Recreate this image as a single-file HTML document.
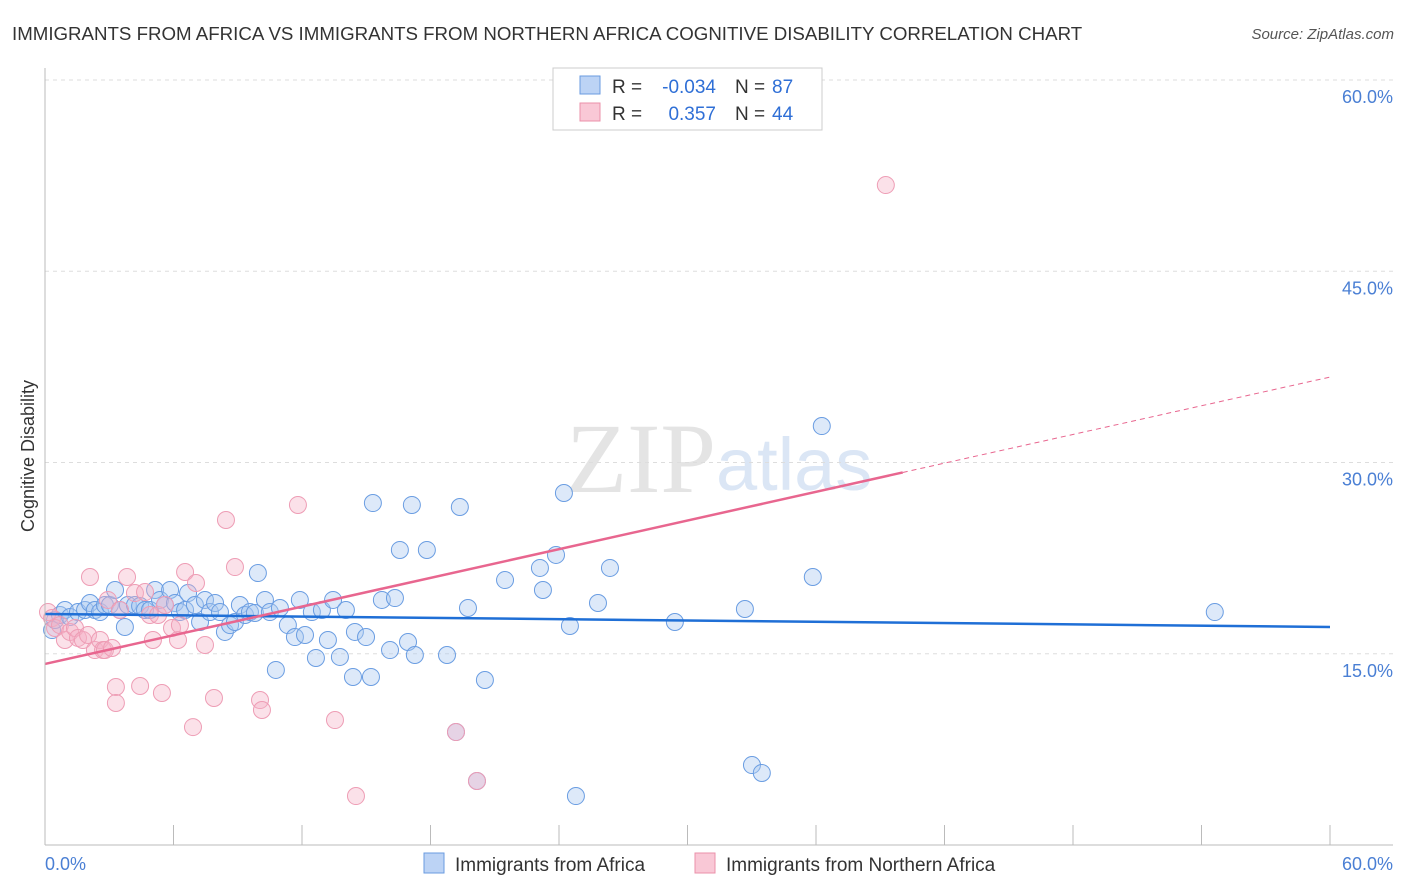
<!DOCTYPE html>
<html><head><meta charset="utf-8"><style>
body{margin:0;background:#fff;font-family:"Liberation Sans",sans-serif;}
#wrap{position:relative;width:1406px;height:892px;overflow:hidden;}
</style></head><body>
<div id="wrap">
<svg id="svg" width="1406" height="892" xmlns="http://www.w3.org/2000/svg">
<text x="12" y="40" font-size="18.7" fill="#333">IMMIGRANTS FROM AFRICA VS IMMIGRANTS FROM NORTHERN AFRICA COGNITIVE DISABILITY CORRELATION CHART</text>
<text x="1394" y="39" font-size="15" fill="#555" font-style="italic" text-anchor="end">Source: ZipAtlas.com</text>
<text x="716" y="492" font-size="100" fill="#e4e4e4" text-anchor="end" font-family="Liberation Serif,serif">ZIP</text>
<text x="716" y="490" font-size="74" fill="#dbe6f5">atlas</text>
<text transform="translate(34,456) rotate(-90)" font-size="18" fill="#333" text-anchor="middle">Cognitive Disability</text>
<g id="grid"></g><g id="pts"></g><g id="lines"></g>
<line x1="45" y1="845" x2="1393" y2="845" stroke="#bbb"/>
<line x1="45" y1="68" x2="45" y2="845" stroke="#bbb"/>
<text x="45" y="870" font-size="18" fill="#4a7fd4">0.0%</text>
<text x="1393" y="870" font-size="18" fill="#4a7fd4" text-anchor="end">60.0%</text>
<g>
<rect x="553" y="68" width="269" height="62" fill="#fff" stroke="#ccc"/>
<rect x="580" y="76" width="20" height="18" fill="#bcd3f5" stroke="#6a9be0"/>
<rect x="580" y="103" width="20" height="18" fill="#f9c8d6" stroke="#eb90aa"/>
<text x="612" y="93" font-size="19" fill="#333">R =</text>
<text x="716" y="93" font-size="19" fill="#2f6fd6" text-anchor="end">-0.034</text>
<text x="735" y="93" font-size="19" fill="#333">N =</text>
<text x="772" y="93" font-size="19" fill="#2f6fd6">87</text>
<text x="612" y="120" font-size="19" fill="#333">R =</text>
<text x="716" y="120" font-size="19" fill="#2f6fd6" text-anchor="end">0.357</text>
<text x="735" y="120" font-size="19" fill="#333">N =</text>
<text x="772" y="120" font-size="19" fill="#2f6fd6">44</text>
</g>
<g>
<rect x="424" y="853" width="20" height="20" fill="#bcd3f5" stroke="#6a9be0"/>
<text x="455" y="871" font-size="19" fill="#333">Immigrants from Africa</text>
<rect x="695" y="853" width="20" height="20" fill="#f9c8d6" stroke="#eb90aa"/>
<text x="726" y="871" font-size="19" fill="#333">Immigrants from Northern Africa</text>
</g>
</svg></div>
<script>
const yTicks=[15,30,45,60];
const yTickLabels=["15.0%","30.0%","45.0%","60.0%"];
const xTicks=[0,6,12,18,24,30,36,42,48,54,60];
const blueX=[0.33,0.47,0.70,0.93,1.17,1.54,1.87,2.10,2.33,2.57,2.80,3.03,3.27,3.50,3.73,3.87,4.20,4.44,4.67,4.90,5.14,5.37,5.60,5.84,6.07,6.30,6.54,6.68,7.00,7.24,7.47,7.70,7.94,8.17,8.40,8.64,8.87,9.10,9.34,9.57,9.80,9.94,10.27,10.50,10.78,10.97,11.34,11.67,11.90,12.14,12.46,12.65,12.93,13.21,13.45,13.77,14.05,14.38,14.47,14.99,15.22,15.31,15.73,16.11,16.34,16.57,16.95,17.13,17.27,17.83,18.77,19.37,19.75,20.54,21.48,23.11,23.25,23.86,24.23,24.51,24.79,25.82,26.38,29.41,32.68,33.01,33.47,35.85,36.27,54.62,19.19,20.17];
const blueY=[16.86,17.65,18.04,18.43,17.88,18.27,18.43,18.98,18.43,18.27,18.82,18.82,20.0,18.43,17.10,18.82,18.82,18.75,18.43,18.43,20.0,19.22,18.82,20.0,18.98,18.27,18.43,19.76,18.82,17.49,19.22,18.27,18.98,18.27,16.71,17.25,17.49,18.82,18.04,18.27,18.20,21.33,19.22,18.27,13.73,18.59,17.25,16.31,19.22,16.47,18.27,14.67,18.43,16.08,19.22,14.75,18.43,13.18,16.71,16.31,13.18,26.82,19.22,15.29,19.37,23.14,15.92,26.67,14.90,23.14,14.90,26.51,18.59,12.94,20.78,21.73,20.0,22.75,27.61,17.18,3.84,18.98,21.73,17.49,18.51,6.27,5.65,21.02,32.86,18.27,8.86,5.02];
const pinkX=[0.14,0.33,0.47,0.70,0.93,1.17,1.40,1.54,1.77,2.01,2.10,2.33,2.57,2.71,2.80,2.94,3.13,3.31,3.31,3.50,3.83,4.20,4.44,4.67,4.90,5.04,5.28,5.46,5.60,5.93,6.21,6.30,6.54,6.91,7.05,7.47,7.89,8.45,8.87,10.04,10.13,11.81,13.54,14.52,39.26,19.19,20.17];
const pinkY=[18.27,17.80,17.02,17.25,16.08,16.71,17.02,16.24,16.08,16.47,21.02,15.29,16.08,15.29,15.29,19.22,15.45,12.39,11.14,18.43,21.02,19.76,12.47,19.84,18.04,16.08,18.04,11.92,18.82,17.02,16.08,17.25,21.41,9.25,20.55,15.69,11.53,25.49,21.80,11.37,10.59,26.67,9.80,3.84,51.76,8.86,5.02];
const blueTrend=[18.12,17.1];
const pinkTrend=[14.2,36.7];
const pinkSolidEnd=40.05;
const NS="http://www.w3.org/2000/svg";
const xs=v=>45+v*(1285/60), ys=v=>845-v*(765/60);
function mk(t,a,p){const e=document.createElementNS(NS,t);for(const k in a)e.setAttribute(k,a[k]);p.appendChild(e);return e;}
const grid=document.getElementById('grid'),pts=document.getElementById('pts'),lines=document.getElementById('lines');
yTicks.forEach((t,i)=>{
 const l=mk('line',{x1:45,x2:1393,y1:ys(t),y2:ys(t),stroke:'#ddd','stroke-dasharray':'4,4'},grid);
 
 
 const tx=mk('text',{x:1393,y:ys(t)+23,'font-size':18,fill:'#4a7fd4','text-anchor':'end'},grid);
 tx.textContent=yTickLabels[i];
 
 
});
xTicks.forEach(t=>{
 const l=mk('line',{x1:xs(t),x2:xs(t),y1:825,y2:845,stroke:'#bbb'},grid);
 
 
});
blueX.forEach((x,i)=>{
 const c=mk('circle',{cx:xs(x),cy:ys(blueY[i]),r:8.5,fill:'rgba(170,200,240,0.4)',stroke:'#6a9de2','stroke-width':1},pts);
 
 
});
pinkX.forEach((x,i)=>{
 const c=mk('circle',{cx:xs(x),cy:ys(pinkY[i]),r:8.5,fill:'rgba(245,175,198,0.38)',stroke:'#ee9db5','stroke-width':1},pts);
 
 
});
const pAt=x=>pinkTrend[0]+(pinkTrend[1]-pinkTrend[0])*x/60;
const bl=mk('line',{x1:xs(0),y1:ys(blueTrend[0]),x2:xs(60),y2:ys(blueTrend[1]),stroke:'#1f6fd6','stroke-width':2.5},lines);


const pl=mk('line',{x1:xs(0),y1:ys(pAt(0)),x2:xs(pinkSolidEnd),y2:ys(pAt(pinkSolidEnd)),stroke:'#e8668f','stroke-width':2.5},lines);


const pd=mk('line',{x1:xs(pinkSolidEnd),y1:ys(pAt(pinkSolidEnd)),x2:xs(60),y2:ys(pAt(60)),stroke:'#e8668f','stroke-width':1,'stroke-dasharray':'5,4'},lines);


</script>
</body></html>
